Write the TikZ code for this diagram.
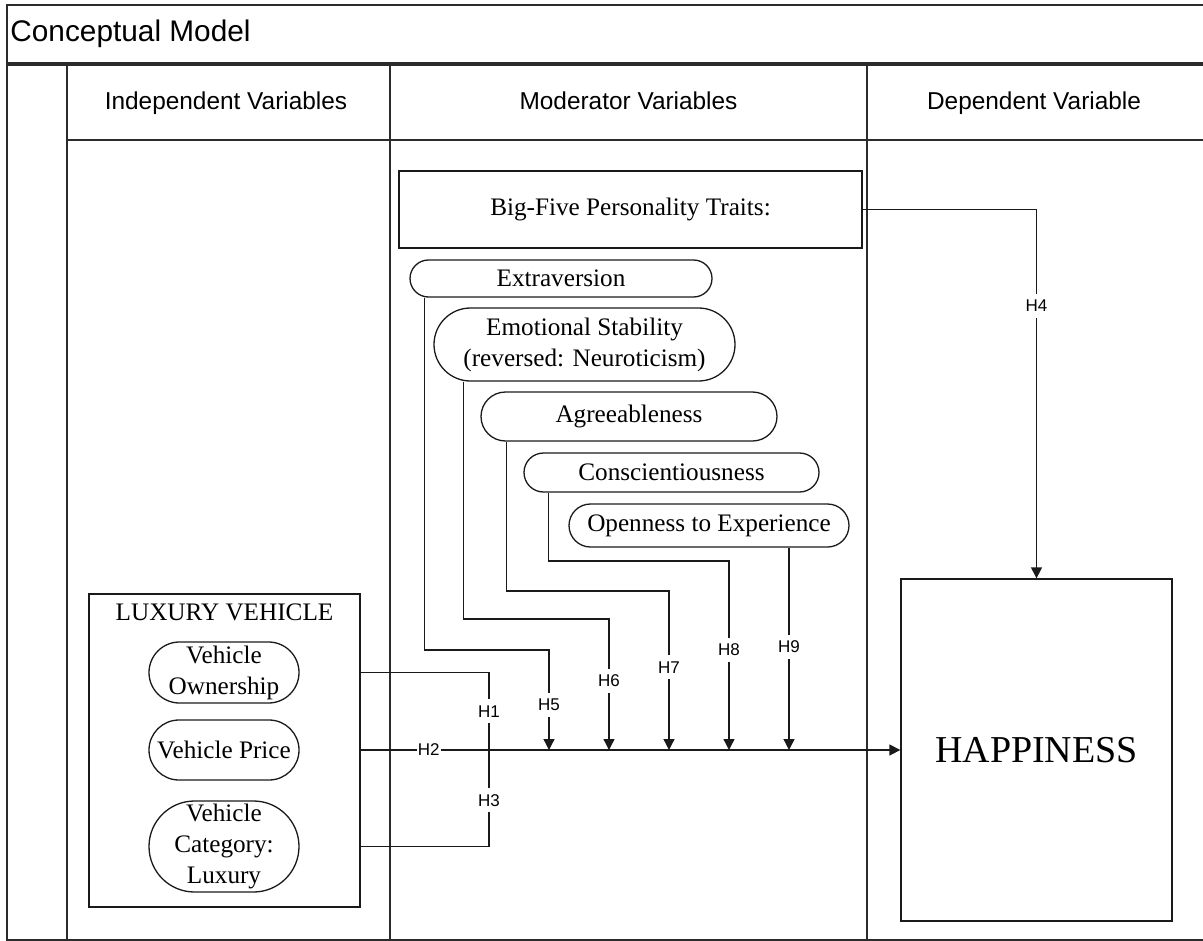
\documentclass[tikz,border=0pt]{standalone}
\usepackage{fontspec}
\setmainfont{Liberation Serif}
\setsansfont{Liberation Sans}
\usetikzlibrary{arrows.meta}
\definecolor{ink}{HTML}{1A1A1A}
\definecolor{frame}{HTML}{2B2B2B}
\tikzset{
  lane/.style={draw=frame, line width=1pt},
  conn/.style={draw=ink, line width=0.65pt},
  arr/.style={conn, -{Triangle[length=5.5pt,width=5.5pt]}},
  txt/.style={font=\fontsize{12.6}{15.5}\selectfont, inner sep=0pt, align=center},
  vbox/.style={txt, draw=ink, line width=0.65pt},
  pill/.style={vbox, rounded corners=#1},
  hlabel/.style={fill=white, inner xsep=0.6pt, inner ysep=3pt, font=\sffamily\fontsize{8.5}{10}\selectfont},
  head/.style={font=\sffamily\fontsize{12.2}{14}\selectfont, anchor=base},
  ttl/.style={font=\sffamily\fontsize{14.9}{17}\selectfont, anchor=west, inner sep=0pt}
}

\begin{document}
\begin{tikzpicture}[x=0.5pt,y=-0.5pt]
  \useasboundingbox (0,0) rectangle (1203,941);

  % pool and lanes
  \draw[lane] (1215,5) -- (7,5) -- (7,940) -- (1215,940);
  \draw[lane] (7,63) -- (1215,63);
  \draw[lane] (7,65) -- (1215,65);
  \draw[lane] (67,65) -- (67,940);
  \draw[lane] (390,65) -- (390,940);
  \draw[lane] (867,65) -- (867,940);
  \draw[lane] (67,140) -- (1215,140);

  \node[ttl] (title) at (10,34) {Conceptual Model};
  \node[head] (hind) at (226,110) {Independent Variables};
  \node[head] (hmod) at (628.5,110) {Moderator Variables};
  \node[head] (hdep) at (1034,110) {Dependent Variable};

  % moderators
  \node[vbox, minimum width=231.5pt, minimum height=38.5pt] (big5) at (630.5,209.5) {Big-Five Personality Traits:};
  \node[pill=9.25pt, minimum width=151pt, minimum height=18.5pt] (extra) at (561,278.5) {Extraversion};
  \node[pill=18.25pt, minimum width=150.5pt, minimum height=36.5pt] (emo) at (584.5,344.5) {Emotional Stability\\(reversed: Neuroticism)};
  \node[pill=12.25pt, minimum width=148pt, minimum height=24.5pt] (agree) at (629,416.5) {Agreeableness};
  \node[pill=9.75pt, minimum width=147.5pt, minimum height=19.5pt] (consc) at (671.5,472.5) {Conscientiousness};
  \node[pill=10.75pt, minimum width=140pt, minimum height=21.5pt] (open) at (709,525.5) {Openness to Experience};

  % dependent
  \node[vbox, font=\fontsize{19}{22}\selectfont, minimum width=135.5pt, minimum height=171pt] (happy) at (1036.5,750) {HAPPINESS};

  % independent
  \node[vbox, minimum width=135.5pt, minimum height=156.5pt] (lux) at (224.5,750.5) {};
  \node[txt] (luxt) at (224.5,612) {LUXURY VEHICLE};
  \node[pill=15.25pt, minimum width=75pt, minimum height=30.5pt] (own) at (224,672.5) {Vehicle\\Ownership};
  \node[pill=15pt, minimum width=75pt, minimum height=30pt] (price) at (224,750) {Vehicle Price};
  \node[pill=22.75pt, minimum width=75pt, minimum height=45.5pt] (cat) at (224,846.5) {Vehicle\\Category:\\Luxury};

  \coordinate (jn) at (489,750);
  \coordinate (b5) at (549,650);
  \coordinate (b6) at (609,619);
  \coordinate (b7) at (669,591);
  \coordinate (b8) at (729,561);
  \coordinate (m5) at (549,750);
  \coordinate (m6) at (609,750);
  \coordinate (m7) at (669,750);
  \coordinate (m8) at (729,750);
  \coordinate (m9) at (789,750);

  \draw[conn] (lux.east |- own) -| node[hlabel, pos=0.75] {H1} (jn);
  \draw[conn] (lux.east |- cat) -| node[hlabel, pos=0.74] {H3} (jn);
  \draw[arr] (lux.east |- price) -- node[hlabel, pos=0.126] {H2} (happy.west);
  \draw[arr] (big5.east) -| node[hlabel, pos=0.631] {H4} (happy.north);

  \draw[arr] ([xshift=7.5pt]extra.south west) |- (b5) -- node[hlabel, pos=0.55] {H5} (m5);
  \draw[arr] ([xshift=15pt]emo.south west) |- (b6) -- node[hlabel, pos=0.47] {H6} (m6);
  \draw[arr] ([xshift=13pt]agree.south west) |- (b7) -- node[hlabel, pos=0.48] {H7} (m7);
  \draw[arr] ([xshift=12.5pt]consc.south west) |- (b8) -- node[hlabel, pos=0.47] {H8} (m8);
  \draw[arr] (open.south -| m9) -- node[hlabel, pos=0.49] {H9} (m9);
\end{tikzpicture}
\end{document}
